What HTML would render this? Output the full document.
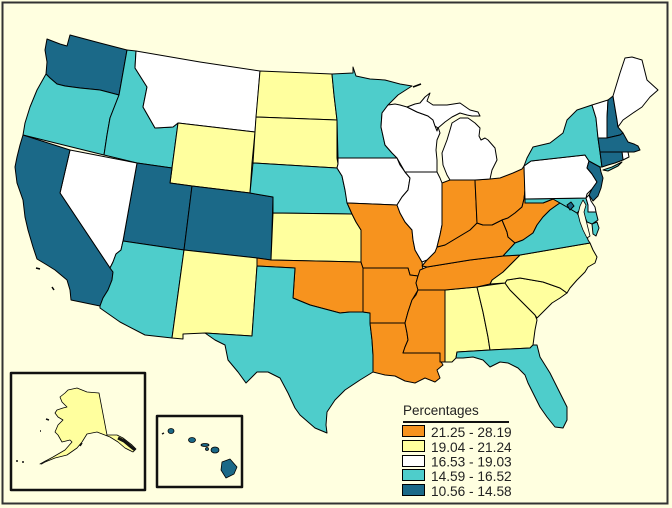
<!DOCTYPE html>
<html><head><meta charset="utf-8">
<style>
html,body{margin:0;padding:0;background:#ffffe0;}
svg{display:block}
text{font-family:"Liberation Sans",Arial,sans-serif;fill:#222}
</style></head>
<body>
<svg width="672" height="508" viewBox="0 0 672 508" xmlns="http://www.w3.org/2000/svg">
<rect x="0" y="0" width="672" height="508" fill="#ffffe0"/>
<rect x="2.5" y="2.5" width="665" height="501" fill="#ffffe0" stroke="#333" stroke-width="2"/>

<g stroke="#000" stroke-width="1" stroke-linejoin="round">
<!-- WA -->
<path fill="#1b6988" d="M47,39 L60,44 L67,46 L70,35 L100,43 L127,50 L119,95 L100,90 L80,88 L65,86 L57,84 L50,78 L46,74 L47,62 L45,50 Z"/>
<!-- OR -->
<path fill="#4ecdcb" d="M46,74 L50,78 L57,84 L65,86 L80,88 L100,90 L119,95 L110,118 L107,135 L104,155 L23,135 L25,123 L30,107 L37,90 Z"/>
<!-- ID -->
<path fill="#4ecdcb" d="M127,50 L136,51 L135,68 L147,87 L143,107 L155,128 L173,127 L178,123 L172,168 L137,163 L104,155 L107,135 L110,118 L119,95 Z"/>
<!-- MT -->
<path fill="#ffffff" d="M136,51 L200,62 L260,71 L255,132 L178,123 L173,127 L155,128 L143,107 L147,87 L135,68 Z"/>
<!-- WY -->
<path fill="#ffff9e" d="M178,123 L255,132 L252,163 L250,193 L192,186 L170,183 L172,168 Z"/>
<!-- UT -->
<path fill="#1b6988" d="M137,163 L172,168 L170,183 L192,186 L184,250 L123,241 Z"/>
<!-- CO -->
<path fill="#1b6988" d="M192,186 L250,193 L273,197 L271,260 L257,258 L184,250 Z"/>
<!-- NV -->
<path fill="#ffffff" d="M70,150 L137,163 L123,241 L121,250 L116,254 L113,262 L110,268 L60,193 Z"/>
<!-- CA -->
<path fill="#1b6988" d="M23,135 L70,150 L60,193 L110,268 L113,272 L112,280 L108,290 L103,298 L100,306 L71,300 L70,290 L67,280 L55,270 L47,265 L37,259 L33,247 L28,230 L25,217 L23,200 L17,183 L15,167 L17,157 L20,145 Z"/>
<!-- AZ -->
<path fill="#4ecdcb" d="M123,241 L184,250 L172,338 L145,335 L120,322 L100,308 L100,306 L103,298 L108,290 L112,280 L113,272 L110,268 L113,262 L116,254 L121,250 Z"/>
<!-- NM -->
<path fill="#ffff9e" d="M184,250 L257,258 L257,266 L252,336 L205,333 L183,334 L183,339 L172,338 Z"/>
<!-- ND -->
<path fill="#ffff9e" d="M260,71 L332,74 L334,95 L337,120 L256,117 Z"/>
<!-- SD -->
<path fill="#ffff9e" d="M256,117 L337,120 L337,158 L338,164 L337,168 L320,167 L253,163 L255,132 Z"/>
<!-- NE -->
<path fill="#4ecdcb" d="M253,163 L320,167 L337,168 L342,176 L345,190 L348,205 L352,214 L273,213 L273,197 L250,193 Z"/>
<!-- KS -->
<path fill="#ffff9e" d="M273,213 L352,214 L356,222 L361,230 L361,262 L271,260 Z"/>
<!-- OK -->
<path fill="#f7931e" d="M257,258 L271,260 L361,262 L363,268 L363,312 L350,312 L340,313 L325,309 L310,305 L293,298 L295,268 L257,266 Z"/>
<!-- TX -->
<path fill="#4ecdcb" d="M257,266 L295,268 L293,298 L310,305 L325,309 L340,313 L350,312 L363,312 L370,313 L370,323 L372,340 L373,355 L373,372 L360,380 L345,390 L335,400 L327,412 L326,425 L327,433 L315,428 L300,415 L295,408 L288,393 L280,378 L268,372 L257,372 L246,383 L238,372 L228,360 L225,345 L215,340 L205,333 L252,336 Z"/>
<!-- MN -->
<path fill="#4ecdcb" d="M332,74 L353,73 L353,67 L356,76 L370,79 L385,80 L400,84 L412,86 L398,95 L388,105 L382,113 L381,127 L385,145 L392,153 L397,158 L338,158 L337,120 L334,95 Z"/>
<!-- IA -->
<path fill="#ffffff" d="M338,158 L397,158 L400,165 L405,172 L410,178 L408,190 L402,197 L397,205 L347,203 L345,190 L342,176 L337,168 L338,164 Z"/>
<!-- MO -->
<path fill="#f7931e" d="M347,203 L397,205 L400,213 L405,222 L412,230 L413,240 L415,250 L422,262 L423,270 L418,276 L410,275 L408,268 L363,268 L361,262 L361,230 L356,222 L352,214 L348,205 Z"/>
<!-- AR -->
<path fill="#f7931e" d="M363,268 L408,268 L410,275 L418,276 L416,283 L418,290 L412,300 L408,312 L405,323 L370,323 L370,313 L363,312 Z"/>
<!-- LA -->
<path fill="#f7931e" d="M370,323 L405,323 L407,333 L408,340 L405,347 L403,353 L440,353 L440,360 L443,365 L437,370 L440,378 L435,382 L425,378 L415,383 L405,381 L395,376 L385,375 L373,372 L373,355 L372,340 Z"/>
<!-- MS -->
<path fill="#f7931e" d="M418,290 L445,290 L445,362 L440,362 L440,353 L403,353 L405,347 L408,340 L407,333 L405,323 L408,312 L412,300 L416,295 Z"/>
<!-- AL -->
<path fill="#ffff9e" d="M445,290 L477,287 L483,312 L488,337 L490,350 L457,352 L456,358 L452,362 L445,362 Z"/>
<!-- GA -->
<path fill="#ffff9e" d="M477,287 L490,285 L505,283 L510,290 L515,295 L525,305 L535,315 L537,320 L535,330 L533,345 L530,348 L490,350 L488,337 L483,312 Z"/>
<!-- FL -->
<path fill="#4ecdcb" d="M457,352 L490,350 L530,348 L533,345 L537,345 L540,357 L545,365 L550,373 L555,383 L560,393 L567,407 L567,420 L563,428 L555,427 L547,417 L540,407 L533,393 L528,383 L525,375 L518,368 L508,363 L500,362 L490,367 L483,360 L473,357 L463,358 L456,358 Z"/>
<!-- SC -->
<path fill="#ffff9e" d="M505,283 L507,280 L520,278 L543,282 L560,288 L567,293 L560,298 L552,303 L545,310 L537,318 L535,315 L525,305 L515,295 L510,290 Z"/>
<!-- NC -->
<path fill="#ffff9e" d="M490,284 L492,280 L503,272 L520,255 L590,243 L593,250 L597,257 L595,263 L588,267 L585,272 L577,280 L570,288 L567,293 L560,288 L543,282 L520,278 L507,280 L505,283 Z"/>
<!-- TN -->
<path fill="#f7931e" d="M420,270 L427,267 L470,260 L503,256 L520,255 L503,272 L492,280 L490,284 L477,287 L445,290 L418,290 L416,283 L418,276 Z"/>
<!-- KY -->
<path fill="#f7931e" d="M422,266 L427,260 L430,257 L435,252 L437,247 L445,245 L450,242 L460,236 L470,230 L477,223 L483,225 L492,225 L502,220 L507,232 L508,237 L515,243 L503,256 L470,260 L427,267 Z"/>
<!-- IL -->
<path fill="#ffffff" d="M405,172 L437,172 L440,178 L442,183 L442,225 L440,235 L437,247 L435,252 L430,257 L427,260 L422,262 L415,250 L413,240 L412,230 L405,222 L400,213 L397,205 L402,197 L408,190 L410,178 Z"/>
<!-- IN -->
<path fill="#f7931e" d="M442,183 L450,180 L475,180 L477,223 L470,230 L460,236 L450,242 L445,245 L437,247 L440,235 L442,225 Z"/>
<!-- OH -->
<path fill="#f7931e" d="M475,180 L490,179 L500,178 L513,173 L522,169 L524,166 L525,190 L524,199 L522,207 L515,213 L508,218 L502,220 L492,225 L483,225 L477,223 Z"/>
<!-- WV -->
<path fill="#f7931e" d="M525,190 L525,203 L543,203 L553,199 L560,203 L557,205 L550,210 L543,217 L537,225 L533,233 L523,240 L515,243 L508,237 L507,232 L502,220 L508,218 L515,213 L522,207 L524,199 Z"/>
<!-- VA -->
<path fill="#4ecdcb" d="M503,256 L515,243 L523,240 L533,233 L537,225 L543,217 L550,210 L557,205 L560,203 L567,207 L572,210 L577,213 L580,218 L583,225 L586,232 L588,240 L590,243 L520,255 Z"/>
<path fill="#4ecdcb" d="M592,224 L597,222 L599,228 L596,236 L593,234 Z"/>
<!-- MD -->
<path fill="#4ecdcb" d="M525,199 L586,198 L588,205 L588,212 L596,212 L598,220 L592,224 L587,222 L584,215 L580,210 L577,213 L572,210 L567,207 L560,203 L553,199 L543,203 L525,203 Z"/>
<!-- Chesapeake -->
<path fill="#ffffe0" stroke-width="0.8" d="M583,200 L586,205 L584,212 L586,220 L588,228 L590,236 L587,238 L583,230 L580,222 L578,214 L580,206 Z"/>
<!-- DE -->
<path fill="#ffffff" d="M586,198 L589,195 L591,201 L595,207 L596,212 L588,212 L588,205 Z"/>
<!-- DC -->
<path fill="#1b6988" d="M567,205 L571,202 L574,206 L570,210 Z"/>
<!-- PA -->
<path fill="#ffffff" d="M524,166 L531,161 L585,155 L589,161 L587,168 L592,174 L597,182 L592,189 L587,194 L586,198 L525,199 Z"/>
<!-- NJ -->
<path fill="#1b6988" d="M589,161 L600,167 L601,172 L603,178 L601,188 L598,196 L593,201 L589,195 L592,189 L597,182 L592,174 L587,168 Z"/>
<!-- NY -->
<path fill="#4ecdcb" d="M524,166 L527,158 L533,147 L550,143 L563,133 L567,120 L577,110 L592,105 L596,118 L598,138 L600,152 L602,167 L600,167 L589,161 L585,155 L531,161 Z"/>
<path fill="#4ecdcb" d="M603,170 L612,167 L622,162 L618,166 L608,171 Z"/>
<!-- VT -->
<path fill="#ffffff" d="M592,105 L608,100 L607,118 L607,138 L598,138 L596,118 Z"/>
<!-- NH -->
<path fill="#1b6988" d="M608,100 L613,96 L617,120 L618,127 L623,133 L620,135 L607,138 L607,118 Z"/>
<!-- ME -->
<path fill="#ffffff" d="M613,96 L620,73 L625,58 L632,57 L642,60 L647,80 L658,90 L650,97 L642,107 L633,113 L623,120 L618,127 L617,120 Z"/>
<!-- MA -->
<path fill="#1b6988" d="M598,138 L607,138 L620,135 L623,133 L628,142 L634,144 L638,146 L640,150 L634,152 L628,152 L622,152 L600,152 Z"/>
<!-- RI -->
<path fill="#ffffff" d="M622,152 L628,152 L629,157 L623,160 Z"/>
<!-- CT -->
<path fill="#1b6988" d="M600,152 L622,152 L623,160 L615,163 L608,165 L602,167 Z"/>
<!-- WI -->
<path fill="#ffffff" d="M388,105 L395,104 L400,105 L407,107 L417,112 L428,116 L433,120 L435,126 L437,131 L438,127 L440,133 L437,140 L436,150 L437,160 L437,172 L405,172 L397,158 L392,153 L385,145 L381,127 L382,113 Z"/>
<!-- MI UP -->
<path fill="#ffffff" d="M407,107 L415,104 L420,103 L425,97 L430,93 L427,101 L433,105 L447,105 L460,103 L470,110 L478,112 L480,116 L472,116 L467,115 L460,113 L452,117 L445,122 L438,128 L435,126 L433,120 L428,116 L417,112 Z"/>
<!-- MI lower -->
<path fill="#ffffff" d="M452,123 L460,118 L468,118 L475,123 L480,128 L479,136 L481,140 L485,138 L488,140 L495,148 L497,160 L492,170 L490,179 L475,180 L450,180 L447,175 L443,165 L442,153 L447,140 L450,130 Z"/>
<!-- small islands -->
<path fill="none" stroke-width="1.5" d="M413,87 L421,84"/>
<path fill="none" stroke-width="1.5" d="M36,268 L40,269 M52,287 L54,290"/>

<!-- Alaska inset -->
<rect x="11" y="373" width="134" height="117" fill="none" stroke="#111" stroke-width="2.5"/>
<path fill="#ffff9e" stroke-width="0.8" d="M68,390 L77,388 L87,392 L99,393 L107,435 L117,435 L123,438 L132,445 L136,449 L133,452 L125,448 L118,442 L110,437 L97,432 L87,434 L82,442 L77,448 L67,455 L55,458 L45,462 L40,464 L53,457 L65,450 L72,442 L70,440 L62,442 L58,435 L55,432 L58,425 L63,420 L58,417 L55,413 L57,410 L63,408 L67,407 L62,402 L60,397 L65,393 Z"/>
<path fill="none" stroke="#111" stroke-width="3" d="M118,438 L124,441 L130,446 L135,450"/>
<path fill="none" stroke="#111" stroke-width="1.5" d="M16,461 L18,461 M22,462 L24,462 M41,464 L46,461 M46,419 L49,420 M40,431 L41,431 M80,446 L82,443"/>

<!-- Hawaii inset -->
<rect x="157" y="416" width="85" height="71" fill="none" stroke="#111" stroke-width="2.5"/>
<g fill="#1b6988" stroke-width="0.8">
<ellipse cx="171" cy="431" rx="3" ry="2.5"/>
<ellipse cx="192" cy="440" rx="3.5" ry="2.5"/>
<ellipse cx="205" cy="445" rx="4" ry="1.5"/>
<ellipse cx="207" cy="449" rx="1.5" ry="1.5"/>
<ellipse cx="215" cy="450" rx="4" ry="3"/>
<path d="M222,462 L230,459 L237,467 L234,474 L226,478 L221,470 Z"/>
</g>
<path fill="none" stroke="#111" stroke-width="1.5" d="M162,434 L164,433"/>
</g>

<!-- Legend -->
<text x="403" y="415" font-size="13.5">Percentages</text>
<line x1="403" y1="422" x2="509" y2="422" stroke="#111" stroke-width="2"/>
<g stroke="#000" stroke-width="1">
<rect x="402.5" y="425.5" width="22" height="11" fill="#f7931e"/>
<rect x="402.5" y="440.5" width="22" height="11" fill="#ffff9e"/>
<rect x="402.5" y="455.5" width="22" height="11" fill="#ffffff"/>
<rect x="402.5" y="469.5" width="22" height="11" fill="#4ecdcb"/>
<rect x="402.5" y="484.5" width="22" height="11" fill="#1b6988"/>
</g>
<g font-size="13.7">
<text x="431" y="437">21.25 - 28.19</text>
<text x="431" y="452">19.04 - 21.24</text>
<text x="431" y="466.5">16.53 - 19.03</text>
<text x="431" y="481">14.59 - 16.52</text>
<text x="431" y="496">10.56 - 14.58</text>
</g>
</svg>
</body></html>
